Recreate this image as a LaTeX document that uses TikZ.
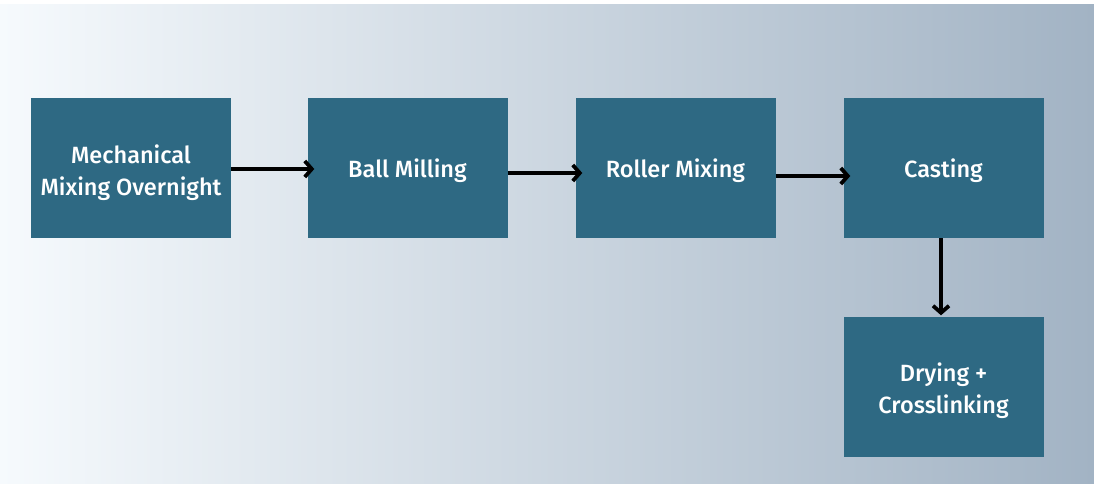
\documentclass[tikz,border=0pt]{standalone}
\usepackage{fontspec}
\setmainfont{Fira Sans}[UprightFont=* Medium]
\usetikzlibrary{arrows.meta}
\definecolor{boxblue}{HTML}{2E6983}
\definecolor{bgleft}{HTML}{F6FAFD}
\definecolor{bgright}{HTML}{A2B3C4}
\tikzset{
  stepbox/.style={fill=boxblue, draw=none, minimum width=200pt, minimum height=140pt,
    inner sep=0pt, text=white, font=\fontsize{23.5pt}{32pt}\selectfont, align=center},
  oneline/.style={text height=18pt, text depth=0pt},
  % two-line text: the box baseline is the last line
  twoline/.style={text height=54pt, text depth=0pt},
  flow/.style={line width=3.8pt, -{Straight Barb[length=7pt,width=16pt,line width=3.8pt]}}
}
\begin{document}
\begin{tikzpicture}[x=1pt,y=-1pt]
  \useasboundingbox (0,0) rectangle (1094,484);
  \fill[white] (0,0) rectangle (1094,484);
  \shade[left color=bgleft, right color=bgright] (0,5) rectangle (1094,484);
  % process steps
  \node[stepbox, twoline] (mix)  at (131,168)     {Mechanical\\Mixing Overnight};
  \node[stepbox, oneline] (ball) at (407.5,168)   {Ball Milling};
  \node[stepbox, oneline] (roll) at (675.5,168)   {Roller Mixing};
  \node[stepbox, oneline] (cast) at (943.5,168)   {Casting};
  \node[stepbox, twoline] (dry)  at (943.5,386.5) {Drying +\\Crosslinking};
  % connectors; the horizontal heads reach a little into the next box
  \draw[flow, shorten >=-7pt] (mix.east |- 0,169) -- (ball.west |- 0,169);
  \draw[flow, shorten >=-7pt] (ball.east |- 0,173) -- (roll.west |- 0,173);
  \draw[flow, shorten >=-7pt] (roll.east |- 0,176) -- (cast.west |- 0,176);
  \draw[flow, shorten >=1pt] (cast.south -| 941,0) -- (dry.north -| 941,0);
\end{tikzpicture}
\end{document}
